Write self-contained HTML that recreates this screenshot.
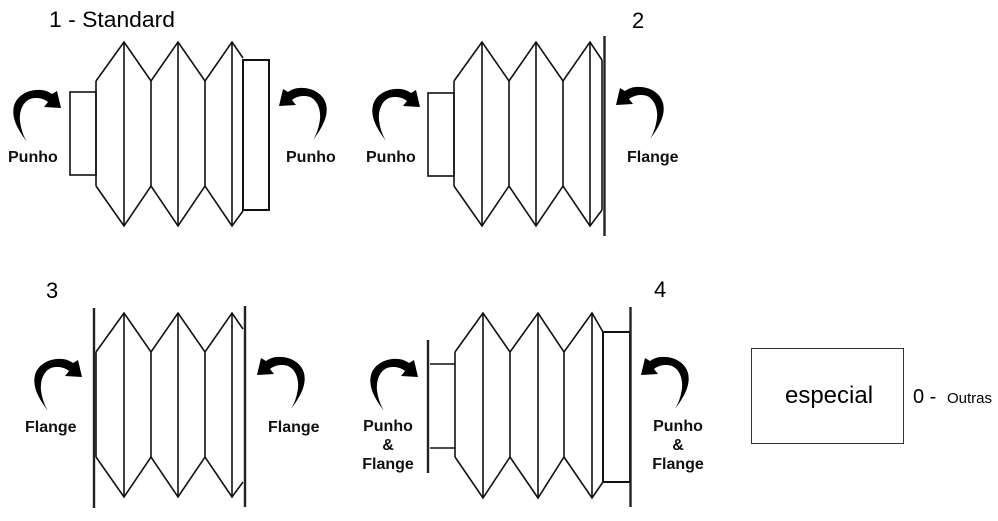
<!DOCTYPE html>
<html>
<head>
<meta charset="utf-8">
<style>
  html,body{margin:0;padding:0;background:#fff;}
  svg{display:block;}
  .ln{fill:none;stroke:#111;stroke-width:1.6;stroke-linejoin:miter;}
  .fl{stroke:#222;stroke-width:2.4;}
  .lbl{font-family:"Liberation Sans",Arial,sans-serif;font-weight:bold;font-size:16px;fill:#111;}
  .ttl{font-family:"Liberation Sans",Arial,sans-serif;font-size:22px;fill:#000;}
</style>
</head>
<body>
<svg width="998" height="521" viewBox="0 0 998 521" xmlns="http://www.w3.org/2000/svg">
  <defs>
    <path id="arr" d="M-34,34 C-43,22 -50,10 -47,-2 C-44,-13 -32,-19 -20,-18 C-16,-18 -12,-16 -9,-14 L-4,-17 L0,0 L-17,-1 L-13,-6 C-18,-10 -25,-11 -31,-9 C-38,-6 -42,3 -41,13 C-40,22 -37,29 -34,34 Z" fill="#000"/>
  </defs>

  <!-- ============ Diagram 1 ============ -->
  <text class="ttl" x="49" y="27" textLength="126" lengthAdjust="spacingAndGlyphs">1 - Standard</text>
  <g class="ln">
    <rect x="70" y="92" width="26" height="83"/>
    <polyline points="96,81 124,42 151,81 178,42 205,81 232,42 243,58"/>
    <polyline points="96,186 124,226 151,186 178,226 205,186 232,226 243,211"/>
    <line x1="96" y1="81" x2="96" y2="186"/>
    <line x1="124" y1="42" x2="124" y2="226"/>
    <line x1="151" y1="81" x2="151" y2="186"/>
    <line x1="178" y1="42" x2="178" y2="226"/>
    <line x1="205" y1="81" x2="205" y2="186"/>
    <line x1="232" y1="42" x2="232" y2="226"/>
    <rect x="243" y="60" width="26" height="150" stroke-width="2"/>
  </g>
  <use href="#arr" transform="translate(61,108)"/>
  <use href="#arr" transform="translate(279,106) scale(-1,1)"/>
  <text class="lbl" x="8" y="162">Punho</text>
  <text class="lbl" x="286" y="162">Punho</text>

  <!-- ============ Diagram 2 ============ -->
  <text class="ttl" x="632" y="28">2</text>
  <g class="ln">
    <rect x="428" y="93" width="26" height="83"/>
    <polyline points="454,81 482,42 509,81 536,42 563,81 590,42 602,60"/>
    <polyline points="454,186 482,226 509,186 536,226 563,186 590,226 602,210"/>
    <line x1="454" y1="81" x2="454" y2="186"/>
    <line x1="482" y1="42" x2="482" y2="226"/>
    <line x1="509" y1="81" x2="509" y2="186"/>
    <line x1="536" y1="42" x2="536" y2="226"/>
    <line x1="563" y1="81" x2="563" y2="186"/>
    <line x1="590" y1="42" x2="590" y2="226"/>
    <line x1="602" y1="60" x2="602" y2="210"/>
    <line class="fl" x1="604.5" y1="36" x2="604.5" y2="236"/>
  </g>
  <use href="#arr" transform="translate(420,107)"/>
  <use href="#arr" transform="translate(616,105) scale(-1,1)"/>
  <text class="lbl" x="366" y="162">Punho</text>
  <text class="lbl" x="627" y="162">Flange</text>

  <!-- ============ Diagram 3 ============ -->
  <text class="ttl" x="46" y="298">3</text>
  <g class="ln">
    <line class="fl" x1="94" y1="308" x2="94" y2="508"/>
    <polyline points="96,352 124,313 151,352 178,313 205,352 232,313 243,329"/>
    <polyline points="96,457 124,497 151,457 178,497 205,457 232,497 243,482"/>
    <line x1="96" y1="352" x2="96" y2="457"/>
    <line x1="124" y1="313" x2="124" y2="497"/>
    <line x1="151" y1="352" x2="151" y2="457"/>
    <line x1="178" y1="313" x2="178" y2="497"/>
    <line x1="205" y1="352" x2="205" y2="457"/>
    <line x1="232" y1="313" x2="232" y2="497"/>
    <line class="fl" x1="245" y1="306" x2="245" y2="507"/>
  </g>
  <use href="#arr" transform="translate(82,377)"/>
  <use href="#arr" transform="translate(257,375) scale(-1,1)"/>
  <text class="lbl" x="25" y="432">Flange</text>
  <text class="lbl" x="268" y="432">Flange</text>

  <!-- ============ Diagram 4 ============ -->
  <text class="ttl" x="654" y="297">4</text>
  <g class="ln">
    <line class="fl" x1="428" y1="340" x2="428" y2="473"/>
    <line x1="430" y1="364" x2="455" y2="364"/>
    <line x1="430" y1="448" x2="455" y2="448"/>
    <polyline points="455,352 483,313 510,352 538,313 564,352 592,313 603,332"/>
    <polyline points="455,457 483,498 510,457 538,498 564,457 592,498 603,482"/>
    <line x1="455" y1="352" x2="455" y2="457"/>
    <line x1="483" y1="313" x2="483" y2="498"/>
    <line x1="510" y1="352" x2="510" y2="457"/>
    <line x1="538" y1="313" x2="538" y2="498"/>
    <line x1="564" y1="352" x2="564" y2="457"/>
    <line x1="592" y1="313" x2="592" y2="498"/>
    <rect x="603" y="332" width="27" height="150" stroke-width="2"/>
    <line class="fl" x1="630.5" y1="307" x2="630.5" y2="507"/>
  </g>
  <use href="#arr" transform="translate(418,377)"/>
  <use href="#arr" transform="translate(641,375) scale(-1,1)"/>
  <text class="lbl" x="388" y="431" text-anchor="middle">Punho</text>
  <text class="lbl" x="388" y="450" text-anchor="middle">&amp;</text>
  <text class="lbl" x="388" y="469" text-anchor="middle">Flange</text>
  <text class="lbl" x="678" y="431" text-anchor="middle">Punho</text>
  <text class="lbl" x="678" y="450" text-anchor="middle">&amp;</text>
  <text class="lbl" x="678" y="469" text-anchor="middle">Flange</text>

  <!-- ============ Especial box ============ -->
  <rect x="751.5" y="348.5" width="152" height="95" fill="none" stroke="#333" stroke-width="1"/>
  <text x="829" y="403" text-anchor="middle" font-family="Liberation Sans, Arial, sans-serif" font-size="24" fill="#000">especial</text>
  <text x="913" y="403" font-family="Liberation Sans, Arial, sans-serif" font-size="20" fill="#000">0 -</text>
  <text x="947" y="403" font-family="Liberation Sans, Arial, sans-serif" font-size="15" fill="#000">Outras</text>
</svg>
</body>
</html>
